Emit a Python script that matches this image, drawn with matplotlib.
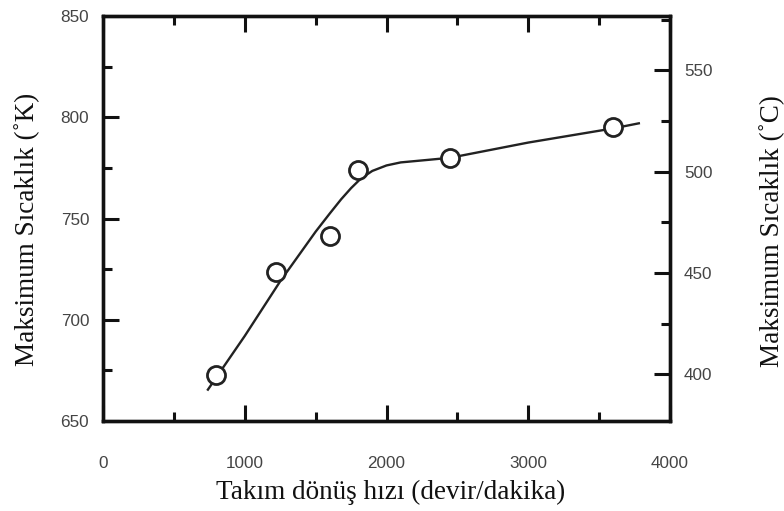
import matplotlib
matplotlib.use("Agg")
import matplotlib.pyplot as plt
from matplotlib.ticker import MultipleLocator

# data
speed_rpm = [795, 1220, 1600, 1800, 2450, 3600]
temp_K = [672.5, 723.5, 741.5, 774.0, 780.0, 795.0]

curve_rpm = [740, 1000, 1250, 1500, 1600, 1680, 1750, 1820, 1900, 2000, 2100, 2300, 2450, 3000, 3600, 3780]
curve_K = [665.5, 692.0, 719.0, 743.5, 752.5, 759.5, 765.0, 769.8, 773.5, 776.2, 777.7, 779.0, 780.0, 787.5, 794.5, 797.0]

xlabel = "Takım dönüş hızı (devir/dakika)"
ylabel_left = "Maksimum Sıcaklık (˚K)"
ylabel_right = "Maksimum Sıcaklık (˚C)"

fig = plt.figure(figsize=(7.84, 5.11), dpi=100)
ax = fig.add_axes([0.1314, 0.1761, 0.7232, 0.7926])

ax.plot(curve_rpm, curve_K, color="#222222", lw=1.7, zorder=2)
ax.plot(speed_rpm, temp_K, linestyle="none", marker="o", markersize=13,
        markerfacecolor="white", markeredgecolor="#222222", markeredgewidth=2.0, zorder=3)

ax.set_xlim(0, 4000)
ax.set_ylim(650, 850)
ax.xaxis.set_major_locator(MultipleLocator(1000))
ax.xaxis.set_minor_locator(MultipleLocator(500))
ax.yaxis.set_major_locator(MultipleLocator(50))
ax.yaxis.set_minor_locator(MultipleLocator(25))

ax.tick_params(which="major", direction="in", length=11.5, width=2.2, top=True,
               labelsize=12.3, labelcolor="#444444", color="#111111")
ax.tick_params(which="minor", direction="in", length=6.5, width=2.2, top=True, color="#111111")
ax.tick_params(axis="x", which="major", pad=25)
ax.tick_params(axis="y", which="major", pad=10)
for lbl in ax.get_xticklabels() + ax.get_yticklabels():
    lbl.set_fontfamily("Liberation Sans")

for s in ax.spines.values():
    s.set_linewidth(2.4)
    s.set_color("#111111")

ax2 = ax.twinx()
ax2.set_ylim(650 - 273.15, 850 - 273.15)
ax2.yaxis.set_major_locator(MultipleLocator(50))
ax2.yaxis.set_minor_locator(MultipleLocator(25))
ax2.tick_params(which="major", direction="in", length=11.5, width=2.2,
                labelsize=12.3, labelcolor="#444444", color="#111111", pad=10)
ax2.tick_params(which="minor", direction="in", length=6.5, width=2.2, color="#111111")
for lbl in ax2.get_yticklabels():
    lbl.set_fontfamily("Liberation Sans")
for s in ax2.spines.values():
    s.set_linewidth(2.4)
    s.set_color("#111111")

serif = dict(family="Liberation Serif", size=19.5, color="#111111")
fig.text(391 / 784, 1 - 492 / 511, xlabel, ha="center", va="center", **serif)
fig.text(27 / 784, 1 - 229 / 511, ylabel_left, rotation=90, ha="center", va="center", **serif)
fig.text(772 / 784, 1 - 231 / 511, ylabel_right, rotation=90, ha="center", va="center", **serif)

fig.savefig("out.png", dpi=100)
